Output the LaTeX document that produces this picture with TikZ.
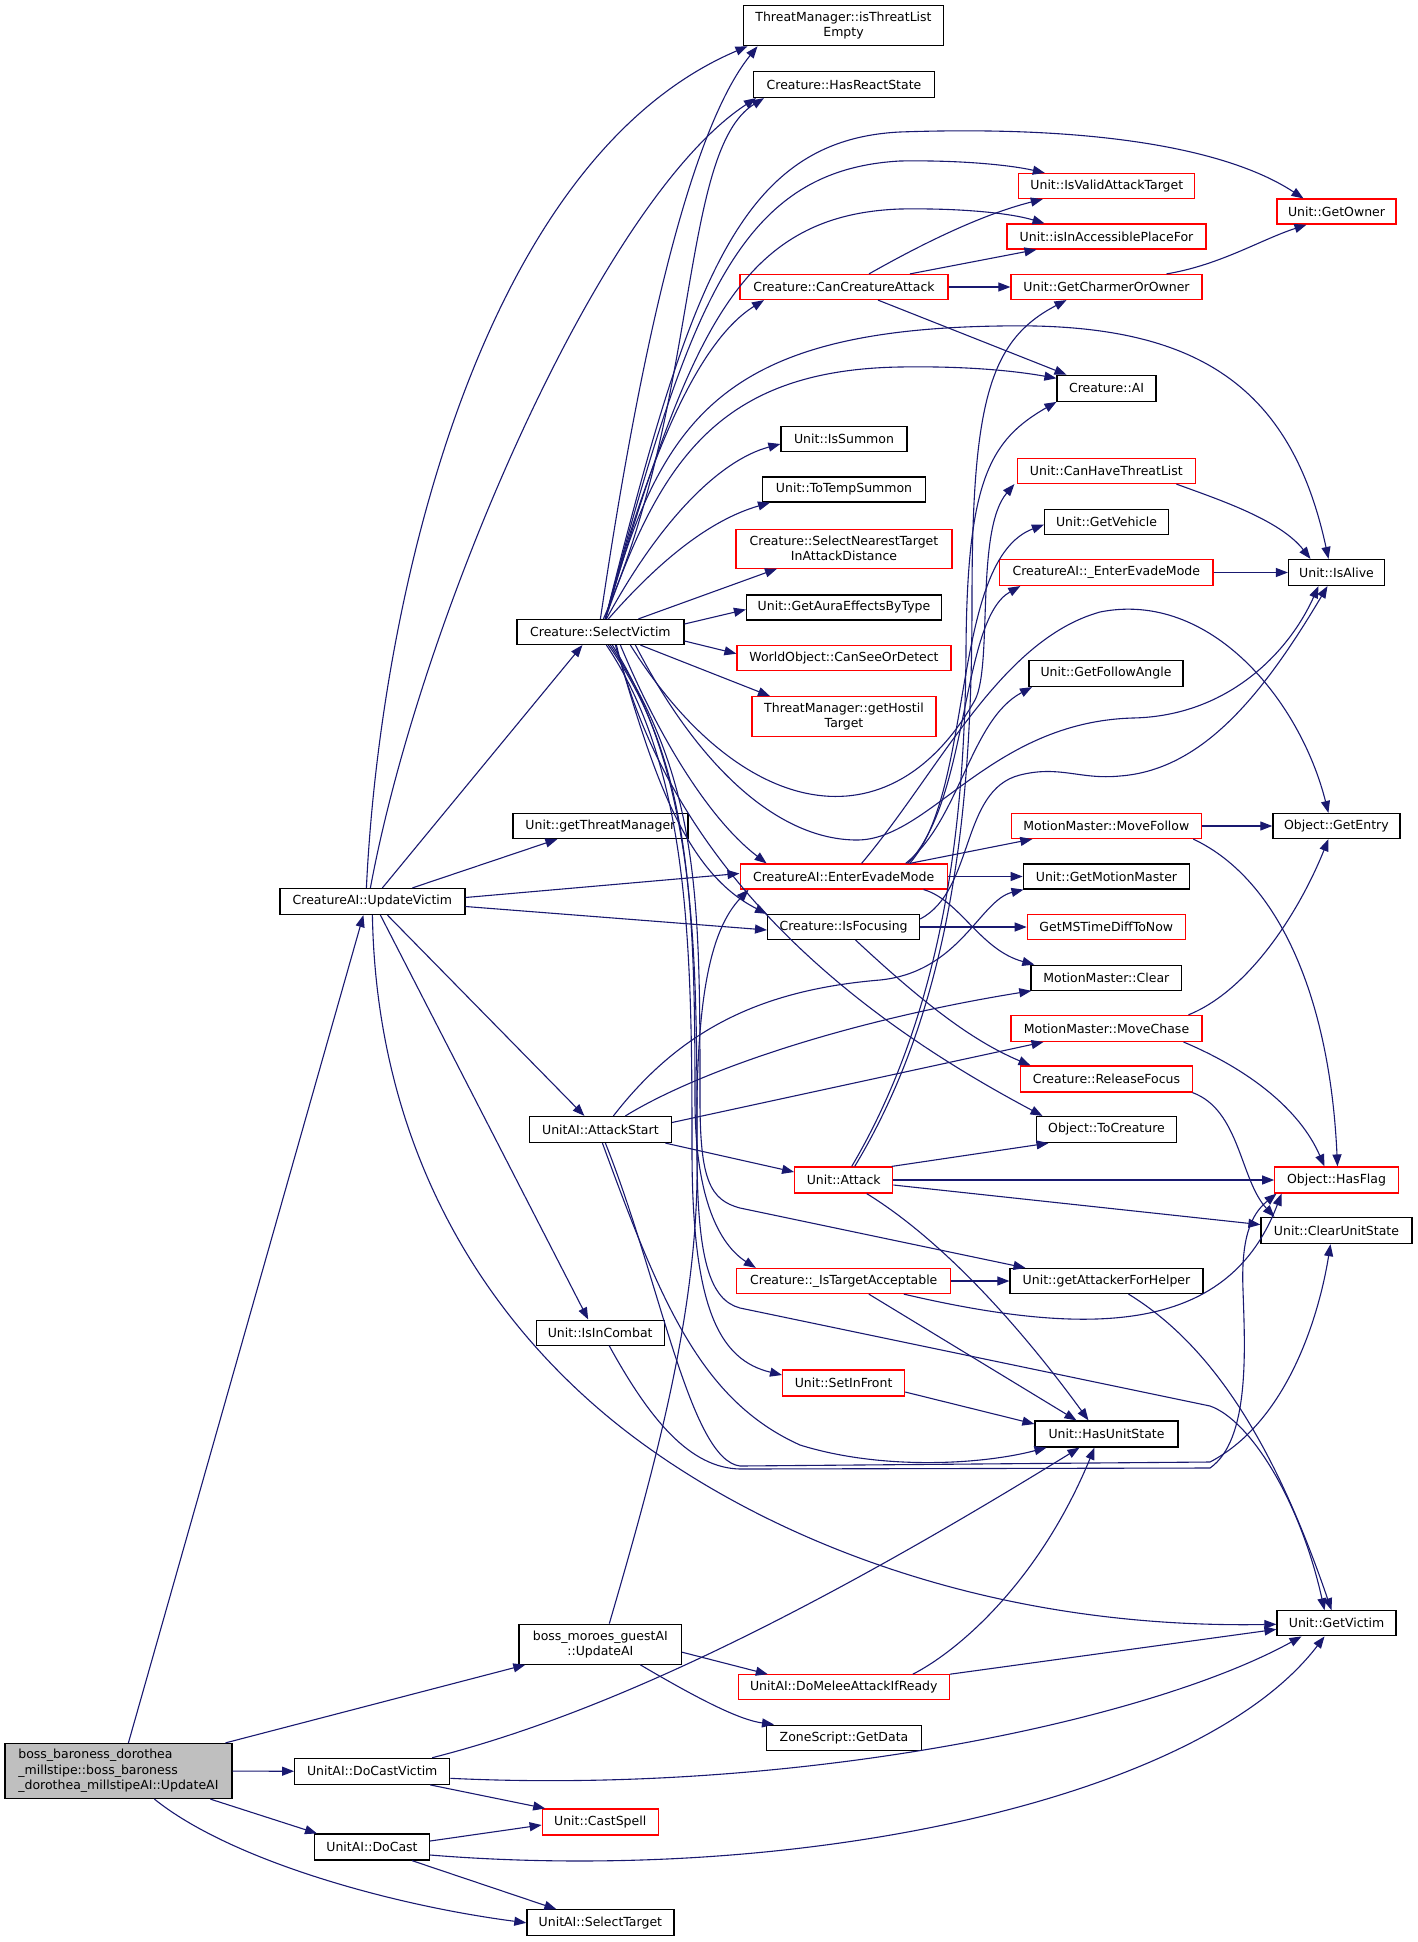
\documentclass[tikz,border=0pt]{standalone}
\usepackage{fontspec}
\setmainfont{DejaVu Sans}
\usetikzlibrary{arrows.meta}
\definecolor{mb}{HTML}{191970}
\definecolor{rootgray}{HTML}{BFBFBF}
\tikzset{
  nb/.style={draw=black, line width=1.2pt, fill=white, inner sep=0pt, align=center,
    font=\fontsize{12.5}{15.3}\selectfont},
  nr/.style={nb, draw=red},
  e/.style={draw=mb, line width=1.1pt, -{Triangle[length=12pt,width=9pt]}},
}
\begin{document}
\begin{tikzpicture}[x=1pt,y=-1pt]
\useasboundingbox (0,0) rectangle (1417,1942);
% ---------- nodes ----------
\node[nb, fill=rootgray, align=left, minimum width=227pt, minimum height=55pt] (root) at (118.4,1771) {boss\_baroness\_dorothea\\\_millstipe::boss\_baroness\\\_dorothea\_millstipeAI::UpdateAI};
\node[nb, minimum width=185pt, minimum height=26pt] (uv) at (372.4,901.5) {CreatureAI::UpdateVictim};
\node[nb, minimum width=155pt, minimum height=26pt] (dcv) at (372.2,1771.3) {UnitAI::DoCastVictim};
\node[nb, minimum width=115pt, minimum height=26pt] (dc) at (372,1847) {UnitAI::DoCast};
\node[nb, minimum width=167pt, minimum height=25pt] (sv) at (600.4,632) {Creature::SelectVictim};
\node[nb, minimum width=175pt, minimum height=25pt] (gtm) at (600.4,826) {Unit::getThreatManager};
\node[nb, minimum width=142pt, minimum height=26pt] (as) at (600.4,1129.5) {UnitAI::AttackStart};
\node[nb, minimum width=128pt, minimum height=25pt] (iic) at (600.2,1332.6) {Unit::IsInCombat};
\node[nb, minimum width=162.5pt, minimum height=40pt] (bm) at (600.3,1644.2) {boss\_moroes\_guestAI\\::UpdateAI};
\node[nr, minimum width=116pt, minimum height=26pt] (cs) at (600.2,1822) {Unit::CastSpell};
\node[nb, minimum width=147pt, minimum height=26pt] (st) at (600.4,1922.8) {UnitAI::SelectTarget};
\node[nb, minimum width=200pt, minimum height=40pt] (tme) at (843.5,25.7) {ThreatManager::isThreatList\\Empty};
\node[nb, minimum width=181pt, minimum height=26pt] (hrs) at (844,84.5) {Creature::HasReactState};
\node[nr, minimum width=208pt, minimum height=25pt] (cca) at (844,287) {Creature::CanCreatureAttack};
\node[nb, minimum width=126pt, minimum height=25pt] (iss) at (844,439) {Unit::IsSummon};
\node[nb, minimum width=163pt, minimum height=25pt] (tts) at (844,489.5) {Unit::ToTempSummon};
\node[nr, minimum width=216pt, minimum height=39pt] (snt) at (844,548.6) {Creature::SelectNearestTarget\\InAttackDistance};
\node[nb, minimum width=195pt, minimum height=25pt] (gaebt) at (844,607.5) {Unit::GetAuraEffectsByType};
\node[nr, minimum width=214pt, minimum height=25pt] (csod) at (844,657.7) {WorldObject::CanSeeOrDetect};
\node[nr, minimum width=184pt, minimum height=40pt] (ght) at (844,716.7) {ThreatManager::getHostil\\Target};
\node[nr, minimum width=207pt, minimum height=25pt] (eem) at (843.6,876.5) {CreatureAI::EnterEvadeMode};
\node[nb, minimum width=152pt, minimum height=25pt] (isf) at (843.6,927) {Creature::IsFocusing};
\node[nr, minimum width=98pt, minimum height=26pt] (att) at (843.7,1180) {Unit::Attack};
\node[nr, minimum width=214pt, minimum height=25pt] (ita) at (843.8,1281) {Creature::\_IsTargetAcceptable};
\node[nr, minimum width=122pt, minimum height=26pt] (sif) at (843.6,1383) {Unit::SetInFront};
\node[nr, minimum width=211pt, minimum height=25pt] (dmair) at (843.8,1687.3) {UnitAI::DoMeleeAttackIfReady};
\node[nb, minimum width=155pt, minimum height=25pt] (gd) at (844,1737.6) {ZoneScript::GetData};
\node[nr, minimum width=176pt, minimum height=25pt] (ivat) at (1106.8,186) {Unit::IsValidAttackTarget};
\node[nr, minimum width=199pt, minimum height=25pt] (iapf) at (1106.5,236.5) {Unit::isInAccessiblePlaceFor};
\node[nr, minimum width=191pt, minimum height=25pt] (gco) at (1106.5,287) {Unit::GetCharmerOrOwner};
\node[nb, minimum width=99pt, minimum height=26pt] (ai) at (1106.5,388.3) {Creature::AI};
\node[nr, minimum width=178pt, minimum height=25pt] (chtl) at (1106.4,471) {Unit::CanHaveThreatList};
\node[nb, minimum width=124pt, minimum height=25pt] (gveh) at (1106.5,521.7) {Unit::GetVehicle};
\node[nr, minimum width=213.5pt, minimum height=26pt] (eem2) at (1106.3,572.5) {CreatureAI::\_EnterEvadeMode};
\node[nb, minimum width=154pt, minimum height=26pt] (gfa) at (1106,673.5) {Unit::GetFollowAngle};
\node[nr, minimum width=190pt, minimum height=25pt] (mf) at (1106.3,826) {MotionMaster::MoveFollow};
\node[nb, minimum width=166.5pt, minimum height=25pt] (gmm) at (1106.5,876.5) {Unit::GetMotionMaster};
\node[nr, minimum width=158pt, minimum height=25pt] (gms) at (1106.3,927) {GetMSTimeDiffToNow};
\node[nb, minimum width=150.5pt, minimum height=25pt] (mmc) at (1106.3,977.7) {MotionMaster::Clear};
\node[nr, minimum width=191pt, minimum height=26pt] (mc) at (1106.5,1028.4) {MotionMaster::MoveChase};
\node[nr, minimum width=172pt, minimum height=26pt] (rf) at (1106.5,1079) {Creature::ReleaseFocus};
\node[nb, minimum width=140pt, minimum height=26pt] (tc) at (1106.5,1129.5) {Object::ToCreature};
\node[nb, minimum width=193pt, minimum height=25pt] (gafh) at (1106.5,1281) {Unit::getAttackerForHelper};
\node[nb, minimum width=143pt, minimum height=26pt] (hus) at (1106.5,1434) {Unit::HasUnitState};
\node[nr, minimum width=119pt, minimum height=25pt] (go) at (1336.5,211.6) {Unit::GetOwner};
\node[nb, minimum width=96pt, minimum height=26pt] (ia) at (1336.5,572.5) {Unit::IsAlive};
\node[nb, minimum width=127pt, minimum height=25pt] (ge) at (1336.4,826) {Object::GetEntry};
\node[nr, minimum width=123.5pt, minimum height=26pt] (hf) at (1336.5,1180) {Object::HasFlag};
\node[nb, minimum width=151pt, minimum height=26pt] (cus) at (1336.5,1230.6) {Unit::ClearUnitState};
\node[nb, minimum width=119pt, minimum height=25pt] (gv) at (1336.5,1623.3) {Unit::GetVictim};
% ---------- edges: root ----------
\draw[e] ([xshift=10pt]root.north) -- ([xshift=-9pt]uv.south);
\draw[e] ([xshift=107pt]root.north) -- ([xshift=-75pt]bm.south);
\draw[e] (root) -- (dcv);
\draw[e] ([xshift=92pt]root.south) -- ([xshift=-55pt]dc.north);
\draw[e] ([xshift=36pt]root.south) .. controls (230,1860) and (390,1905) .. (st.west);
% ---------- UpdateVictim ----------
\draw[e] ([xshift=-6pt]uv.north) .. controls (380,600) and (480,160) .. ([xshift=-96pt]tme.south);
\draw[e] ([xshift=-2pt]uv.north) .. controls (420,620) and (600,200) .. ([xshift=-88pt]hrs.south);
\draw[e] ([xshift=10pt]uv.north) -- ([xshift=-18pt]sv.south);
\draw[e] ([xshift=40pt]uv.north) -- ([xshift=-43pt]gtm.south);
\draw[e] ([yshift=4pt]uv.east) -- ([yshift=3pt]eem.west);
\draw[e] ([yshift=-5pt]uv.east) -- ([yshift=-3pt]isf.west);
\draw[e] ([xshift=15pt]uv.south) -- ([xshift=-16pt]as.north);
\draw[e] ([xshift=8pt]uv.south) -- ([xshift=-12pt]iic.north);
\draw[e] (uv.south) .. controls (376,1120) and (460,1290) .. (600,1410) .. controls (720,1513) and (950,1630) .. ([yshift=-1pt]gv.west);
% ---------- SelectVictim upward ----------
\draw[e] (sv.north) .. controls (640,350) and (690,130) .. ([xshift=-86pt]tme.south);
\draw[e] ([xshift=3pt]sv.north) .. controls (700,400) and (680,150) .. ([xshift=-80pt]hrs.south);
\draw[e] ([xshift=5pt]sv.north) .. controls (690,280) and (740,140) .. (900,132) .. controls (1100,125) and (1230,150) .. ([xshift=-33pt]go.north);
\draw[e] ([xshift=5pt]sv.north) .. controls (690,300) and (740,170) .. (900,161) .. controls (960,160) and (1010,165) .. ([xshift=-62pt]ivat.north);
\draw[e] ([xshift=5pt]sv.north) .. controls (690,330) and (740,215) .. (900,209) .. controls (960,208) and (1010,213) .. ([xshift=-62pt]iapf.north);
\draw[e] ([xshift=5pt]sv.north) .. controls (650,450) and (700,340) .. ([xshift=-80pt]cca.south);
\draw[e] ([xshift=5pt]sv.north) .. controls (660,420) and (720,330) .. (1000,326) .. controls (1190,322) and (1290,380) .. ([xshift=-8pt]ia.north);
\draw[e] ([xshift=5pt]sv.north) .. controls (660,460) and (720,370) .. (900,367) .. controls (960,366) and (1010,370) .. ([yshift=10pt]ai.west);
\draw[e] ([xshift=6pt]sv.north) .. controls (660,520) and (720,460) .. ([yshift=-5pt]iss.west);
\draw[e] ([xshift=8pt]sv.north) .. controls (660,560) and (710,520) .. ([xshift=-74pt]tts.south);
\draw[e] ([xshift=38pt]sv.north) -- ([xshift=-67pt]snt.south);
\draw[e] ([yshift=8pt]sv.east) -- ([yshift=-2pt]gaebt.west);
\draw[e] ([yshift=-9pt]sv.east) -- ([yshift=4pt]csod.west);
\draw[e] ([xshift=40pt]sv.south) -- ([xshift=-74pt]ght.north);
% ---------- SelectVictim downward ----------
\draw[e] ([xshift=20pt]sv.south) .. controls (660,740) and (710,820) .. ([xshift=-77pt]eem.north);
\draw[e] ([xshift=15pt]sv.south) .. controls (650,760) and (680,870) .. (isf.north west);
\draw[e] ([xshift=16pt]sv.south) .. controls (680,900) and (900,1040) .. ([xshift=-64pt]tc.north);
\draw[e] ([xshift=8pt]sv.south) .. controls (690,760) and (695,900) .. (695,1100) .. controls (695,1200) and (720,1245) .. ([xshift=-88pt]ita.north);
\draw[e] ([xshift=6pt]sv.south) .. controls (690,770) and (692,950) .. (692,1150) .. controls (692,1310) and (720,1360) .. ([yshift=8pt]sif.west);
\draw[e] ([xshift=10pt]sv.south) .. controls (700,780) and (700,900) .. (700,1100) .. controls (700,1180) and (710,1200) .. (740,1208) -- ([xshift=-81pt]gafh.north);
\draw[e] ([xshift=12pt]sv.south) .. controls (697,780) and (697,950) .. (697,1150) .. controls (697,1260) and (710,1300) .. (740,1308) -- (1210,1406) .. controls (1250,1420) and (1300,1500) .. ([xshift=-12pt]gv.north);
\draw[e] ([xshift=30pt]sv.south) .. controls (740,820) and (890,850) .. (975,700) .. controls (993,665) and (975,530) .. ([xshift=-92pt]chtl.south);
\draw[e] ([xshift=35pt]sv.south) .. controls (700,770) and (780,840) .. (857,840) .. controls (930,840) and (990,722) .. (1133,718) .. controls (1230,716) and (1290,650) .. ([xshift=-18pt]ia.south);
% ---------- CanCreatureAttack etc ----------
\draw[e] ([xshift=25pt]cca.north) .. controls (920,245) and (980,215) .. ([xshift=-64pt]ivat.south);
\draw[e] ([xshift=66pt]cca.north) -- ([xshift=-70pt]iapf.south);
\draw[e] (cca) -- (gco);
\draw[e] ([xshift=34pt]cca.south) -- ([xshift=-40pt]ai.north);
\draw[e] ([xshift=60pt]gco.north) .. controls (1220,265) and (1260,240) .. ([xshift=-30pt]go.south);
\draw[e] ([xshift=70pt]chtl.south) .. controls (1220,500) and (1280,520) .. ([xshift=-26pt]ia.north);
\draw[e] (eem2) -- (ia);
\draw[e] (mf) -- (ge);
\draw[e] ([xshift=87pt]mf.south) .. controls (1280,880) and (1330,1000) .. ([xshift=1pt]hf.north);
\draw[e] ([xshift=82pt]mc.north) .. controls (1250,990) and (1300,910) .. ([xshift=-8pt]ge.south);
\draw[e] ([xshift=77pt]mc.south) .. controls (1250,1070) and (1300,1110) .. ([xshift=-12pt]hf.north);
\draw[e] ([xshift=86pt]rf.south) .. controls (1240,1110) and (1240,1180) .. ([xshift=-62pt]cus.north);
% ---------- Unit::Attack ----------
\draw[e] ([xshift=48pt]att.north) -- ([xshift=-58pt]tc.south);
\draw[e] (att) -- (hf);
\draw[e] ([yshift=-5pt]att.east) -- ([yshift=6pt]cus.west);
\draw[e] ([xshift=23pt]att.south) .. controls (950,1245) and (1030,1340) .. ([xshift=-18pt]hus.north);
\draw[e] ([xshift=8pt]att.north) .. controls (950,1000) and (965,800) .. (966,650) .. controls (967,480) and (990,440) .. ([xshift=-50pt]ai.south);
\draw[e] ([xshift=11pt]att.north) .. controls (955,1000) and (972,800) .. (972,600) .. controls (972,400) and (990,340) .. ([xshift=-40pt]gco.south);
% ---------- _IsTargetAcceptable, SetInFront, getAttackerForHelper ----------
\draw[e] (ita) -- (gafh);
\draw[e] ([xshift=25pt]ita.south) -- ([xshift=-30pt]hus.north);
\draw[e] ([xshift=60pt]ita.south) .. controls (1100,1340) and (1230,1330) .. ([xshift=-55pt]hf.south);
\draw[e] ([yshift=-9pt]sif.east) -- ([yshift=10pt]hus.west);
\draw[e] ([xshift=22pt]gafh.south) .. controls (1220,1350) and (1280,1460) .. ([xshift=-5pt]gv.north);
% ---------- IsFocusing ----------
\draw[e] (isf) -- (gms);
\draw[e] ([xshift=12pt]isf.south) .. controls (920,1000) and (970,1040) .. ([xshift=-76pt]rf.north);
\draw[e] ([yshift=8pt]isf.east) .. controls (975,890) and (960,790) .. (1020,775) .. controls (1060,765) and (1080,780) .. (1120,776) .. controls (1200,770) and (1260,700) .. ([xshift=-9pt]ia.south);
% ---------- AttackStart ----------
\draw[e] ([xshift=65pt]as.south) -- ([yshift=8pt]att.west);
\draw[e] ([yshift=7pt]as.east) -- ([xshift=-63pt]mc.south);
\draw[e] ([xshift=25pt]as.north) .. controls (700,1070) and (850,1020) .. ([xshift=-75pt]mmc.south);
\draw[e] ([xshift=13pt]as.north) .. controls (680,1030) and (760,990) .. (880,980) .. controls (960,972) and (980,900) .. ([xshift=-83pt]gmm.south);
\draw[e] ([xshift=5pt]as.south) .. controls (660,1280) and (690,1460) .. (740,1466) -- (1210,1462) .. controls (1290,1420) and (1320,1310) .. ([xshift=-6pt]cus.south);
\draw[e] ([xshift=2pt]as.south) .. controls (660,1300) and (700,1400) .. (800,1445) .. controls (880,1470) and (980,1465) .. ([xshift=-60pt]hus.south);
% ---------- IsInCombat ----------
\draw[e] ([xshift=9pt]iic.south) .. controls (650,1420) and (690,1468) .. (740,1469) -- (1210,1468) .. controls (1250,1440) and (1245,1350) .. (1243,1290) .. controls (1241,1240) and (1250,1215) .. ([xshift=-60pt]hf.south);
% ---------- EnterEvadeMode ----------
\draw[e] ([xshift=66pt]eem.north) -- ([xshift=-74pt]mf.south);
\draw[e] (eem) -- (gmm);
\draw[e] ([xshift=80pt]eem.south) .. controls (960,900) and (980,950) .. ([xshift=-72pt]mmc.north);
\draw[e] ([xshift=62pt]eem.north) .. controls (960,820) and (970,720) .. ([xshift=-74pt]gfa.south);
\draw[e] ([xshift=64pt]eem.north) .. controls (970,800) and (960,620) .. ([xshift=-86pt]eem2.south);
\draw[e] ([xshift=66pt]eem.north) .. controls (975,790) and (950,560) .. ([yshift=-3pt]gveh.west);
\draw[e] ([xshift=18pt]eem.north) .. controls (940,770) and (1000,640) .. (1100,612) .. controls (1210,590) and (1300,700) .. ([xshift=-8pt]ge.north);
% ---------- boss_moroes_guestAI ----------
\draw[e] ([xshift=9pt]bm.north) .. controls (660,1450) and (700,1300) .. (697,1150) .. controls (695,1000) and (710,930) .. ([xshift=-95pt]eem.south);
\draw[e] ([yshift=-8pt]bm.east) -- ([xshift=-76pt]dmair.north);
\draw[e] ([xshift=40pt]bm.south) .. controls (700,1700) and (740,1720) .. ([xshift=-70pt]gd.north);
\draw[e] ([xshift=69pt]dmair.north) .. controls (960,1650) and (1040,1580) .. ([xshift=-12pt]hus.south);
\draw[e] (dmair.north east) -- ([yshift=-6pt]gv.west);
% ---------- DoCastVictim / DoCast ----------
\draw[e] ([xshift=60pt]dcv.north) .. controls (600,1715) and (800,1620) .. ([xshift=-27pt]hus.south);
\draw[e] ([yshift=-7pt]dcv.east) .. controls (800,1795) and (1150,1720) .. ([xshift=-35pt]gv.south);
\draw[e] ([xshift=58pt]dcv.south) -- ([xshift=-55pt]cs.north);
\draw[e] ([yshift=6pt]dc.east) -- ([yshift=-3pt]cs.west);
\draw[e] ([yshift=-8pt]dc.east) .. controls (800,1885) and (1200,1800) .. ([xshift=-12pt]gv.south);
\draw[e] ([xshift=40pt]dc.south) -- ([xshift=-44pt]st.north);
\end{tikzpicture}
\end{document}
